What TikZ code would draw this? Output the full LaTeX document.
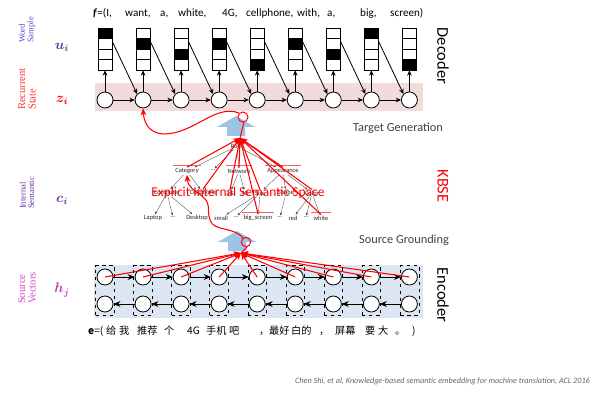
\documentclass[tikz,border=0pt]{standalone}
\usepackage{amsmath}
\usepackage{xcolor}
\usepackage{fontspec}
\setmainfont{Carlito}
\newfontfamily\seriffont{Liberation Serif}
\newfontfamily\cjk{Noto Sans CJK SC}
\usepackage{tikz}
\usetikzlibrary{positioning,calc,fit,arrows.meta}

\definecolor{bandpink}{RGB}{242,220,219}
\definecolor{bandblue}{RGB}{220,230,242}
\definecolor{upblue}{RGB}{157,195,230}
\definecolor{wordblue}{RGB}{80,80,200}
\definecolor{sempurple}{RGB}{112,48,160}
\definecolor{srcpink}{RGB}{215,70,200}
\definecolor{txtgray}{RGB}{64,64,64}
\definecolor{hlred}{RGB}{255,95,95}

\tikzset{
  state/.style={circle, draw, fill=white, line width=0.7pt, minimum size=0.48cm, inner sep=0pt},
  ubox/.style={draw, line width=0.6pt, minimum width=0.42cm, minimum height=1.26cm, inner sep=0pt},
  arr/.style={line width=0.7pt, -{Stealth[length=4.5pt,width=4pt]}},
  encarr/.style={line width=0.8pt, -{Stealth[length=6pt,width=5pt]}},
  colbox/.style={draw, dashed, line width=0.5pt, inner xsep=0.03cm, inner ysep=0.09cm},
  tnode/.style={font=\fontsize{5.5}{6}\selectfont, inner sep=0.8pt, text=black!85},
  tedge/.style={draw=black!70, line width=0.3pt, -{Stealth[length=2.5pt,width=2pt]}},
  redarr/.style={red, line width=0.9pt, -{Stealth[length=6pt,width=5pt]}},
  hl/.style={draw=hlred, line width=0.9pt},
  side/.style={rotate=90, anchor=west, align=left, font=\seriffont\fontsize{#1}{#1}\selectfont},
  side/.default=7.3,
  vec/.style={font=\fontsize{12}{12}\selectfont},
  part/.style={rotate=-90, font=\fontsize{14}{14}\selectfont},
  stage/.style={font=\fontsize{10.5}{12}\selectfont, text=txtgray},
}

\begin{document}
\begin{tikzpicture}[x=0.03cm,y=-0.03cm]
\useasboundingbox (0,0) rectangle (600,402);

% bands
\fill[bandpink] (95,83) rectangle (423,111);
\fill[bandblue] (94,265) rectangle (423,318);

% decoder
\foreach \i/\b in {1/1,2/2,3/3,4/2,5/4,6/2,7/3,8/1,9/4} {
  \pgfmathsetmacro\x{105+(\i-1)*38.05}
  \node[state] (z\i) at (\x,100) {};
  \fill (\x-7,{28+(\b-1)*10.5}) rectangle (\x+7,{28+\b*10.5});
  \node[ubox] (u\i) at (\x,49) {};
  \foreach \k in {1,2,3} \draw[line width=0.6pt] (\x-7,{28+\k*10.5}) -- (\x+7,{28+\k*10.5});
  \draw[arr] (z\i) -- (u\i);
}
\foreach \i [count=\j from 2] in {1,...,8} {
  \draw[arr] (z\i) -- (z\j);
  \draw[arr] ($(u\i.north east)+(0,14)$) -- (z\j.north west);
}

% encoder
\foreach \i in {1,...,9} {
  \pgfmathsetmacro\x{105+(\i-1)*38.05}
  \node[state] (hf\i) at (\x,277) {};
  \node[state] (hb\i) at (\x,304) {};
  \node[colbox, fit=(hf\i)(hb\i)] (hc\i) {};
}
\foreach \i [count=\j from 2] in {1,...,8} {
  \draw[encarr] (hf\i) -- (hf\j);
  \draw[encarr] (hb\j) -- (hb\i);
}

% block arrows
\fill[upblue] (236,116) -- (255,127) -- (245,127) -- (245,136) -- (227,136) -- (227,127) -- (217,127) -- cycle;
\fill[upblue] (237,231) -- (256,242) -- (246,242) -- (246,251) -- (228,251) -- (228,242) -- (218,242) -- cycle;
\coordinate (tgt) at (240,138);
\coordinate (grnd) at (241,253);

% tree
\node[tnode] (root) at (237,146) {Root};
\node[tnode] (cat) at (187,171) {Category};
\node[tnode] (dotsA) at (213,170) {...};
\node[tnode] (net) at (239,171) {Network};
\node[tnode] (app) at (283,171) {Appearance};
\node[tnode] (comp) at (167,193) {Computer};
\node[tnode] (cell) at (203,193) {Cellphone};
\node[tnode] (netA) at (230,193) {3G};
\node[tnode] (netB) at (245,193) {4G};
\node[tnode] (size) at (260,193) {Size};
\node[tnode] (shape) at (286,193) {Shape};
\node[tnode] (color) at (312,193) {Color};
\node[tnode] (lap) at (153,218) {Laptop};
\node[tnode] (dotsB) at (173,217) {...};
\node[tnode] (desk) at (197,218) {Desktop};
\node[tnode] (small) at (221,218) {small};
\node[tnode] (dotsC) at (236,217) {...};
\node[tnode] (big) at (258,218) {big\_screen};
\node[tnode] (dotsD) at (280,217) {...};
\node[tnode] (red) at (293,218) {red};
\node[tnode] (dotsE) at (306,217) {...};
\node[tnode] (white) at (321,218) {white};

\foreach \p/\c in {root/cat,root/dotsA,root/net,root/app,cat/comp,cat/cell,net/netA,net/netB,
  app/size,app/shape,app/color,comp/lap,comp/dotsB,comp/desk,size/small,size/dotsC,size/big,
  shape/dotsD,color/red,color/dotsE,color/white}
  \draw[tedge] (\p) -- (\c);

\foreach \c in {cat,net,app,big,white}
  \draw[hl] ($(\c.north west)+(-1,-2)$) -- ($(\c.north east)+(1,-2)$);

\node[font=\fontsize{11.5}{12}\selectfont, text=red] (ess) at (238,193) {Explicit Internal Semantic Space};

% red links
\foreach \c in {cat,cell,netA,net,size,big,app,color,white}
  \draw[redarr] (\c.north) -- (tgt);
\foreach \i in {1,...,9}
  \draw[redarr] (hf\i.center) -- (grnd);

\draw[red, line width=0.9pt] (tgt) -- (244,122);
\draw[red, line width=0.8pt] (243,117) circle (0.15cm);
\draw[redarr] (239,113) .. controls (215,104) and (195,133) .. (165,134) .. controls (150,134) and (144,124) .. (z2.south);
\draw[red, line width=0.9pt] (grnd) -- (247,247);
\draw[red, line width=0.8pt] (246,242) circle (0.14cm);
\draw[redarr] (243,238) .. controls (233,226) and (214,232) .. (210,220) .. controls (206,208) and (212,205) .. (203,197) .. controls (195,190) and (188,188) .. (cat.south);

% left labels
\node[side, text=wordblue] (lw) at (27,47) {Word\\Sample};
\node[vec, text=wordblue!80!black] (lu) at (62,47) {$\boldsymbol{u_i}$};
\node[side=9, text=red!80] (lr) at (27,114) {Recurrent\\State};
\node[vec, text=red] (lz) at (62,100) {$\boldsymbol{z_i}$};
\node[side, text=sempurple] (ls) at (27,213) {Internal\\Semantic};
\node[vec, text=sempurple] (lc) at (62,200) {$\boldsymbol{c_i}$};
\node[side=9, text=srcpink] (lv) at (27,308) {Source\\Vectors};
\node[vec, text=srcpink!90!black] (lh) at (62,290) {$\boldsymbol{h_j}$};

% right labels
\node[part] (dec) at (443,56) {Decoder};
\node[part, text=red] (kbse) at (443,186) {KBSE};
\node[part] (enc) at (443,295) {Encoder};
\node[stage] (tg) at (398,128) {Target Generation};
\node[stage] (sg) at (404,240) {Source Grounding};

% sentences
\foreach \w/\xx [count=\k] in {{\textbf{\textit{f}}=(I,}/93,{want,}/125,{a,}/160,{white,}/178,{4G,}/222,
  {cellphone,}/246,{with,}/297,{a,}/327,{big,}/360,{screen)}/390}
  \node[anchor=base west, inner sep=0pt, font=\fontsize{9.5}{10}\selectfont] (f\k) at (\xx,17) {\w};
\foreach \w/\xx [count=\k] in {{\textbf{\textit{e}}=(}/88,给/106,我/119,推荐/137,个/164,4G/187,手机/206,吧/229,
  ，/259,最好/269,白的/291,，/319,屏幕/335,要/365,大/378,。/395,)/412}
  \node[anchor=base west, inner sep=0pt, font=\cjk\fontsize{8.7}{10}\selectfont] (e\k) at (\xx,334) {\w};

\node[anchor=east, font=\itshape\fontsize{7}{8}\selectfont, text=black!60] (cite) at (594,381)
  {Chen Shi, et al, Knowledge-based semantic embedding for machine translation, ACL 2016};
\end{tikzpicture}
\end{document}
